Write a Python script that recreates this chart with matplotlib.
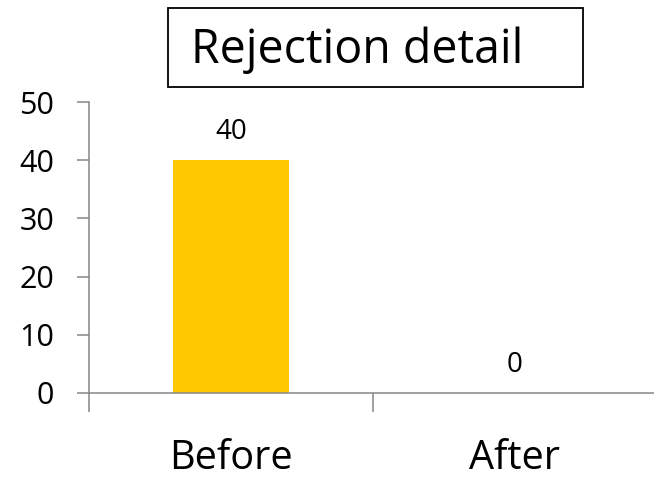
import matplotlib
matplotlib.use("Agg")
import matplotlib.pyplot as plt
from matplotlib.patches import Rectangle

# data
categories = ["Before", "After"]
values = [40, 0]
y_ticks = [0, 10, 20, 30, 40, 50]
title = "Rejection detail"

AXIS_GRAY = "#868686"
BAR_GOLD = "#FFC800"
W, H = 654, 484

plt.rcParams['font.family'] = ['Open Sans', 'DejaVu Sans']

fig = plt.figure(figsize=(W / 100, H / 100), dpi=100)
ax = fig.add_axes([89 / W, 1 - 393 / H, 568 / W, 291 / H])

x = list(range(len(categories)))
ax.bar(x, values, width=0.41, color=BAR_GOLD, zorder=2)

# value labels above bars
for xi, v in zip(x, values):
    ax.annotate(str(v), (xi, v), xytext=(0, 10), textcoords="offset points",
                ha="center", va="bottom", fontsize=20, color="black")

ax.set_xlim(-0.5, len(categories) - 0.5)
ax.set_ylim(0, 50)
ax.set_yticks(y_ticks)
ax.tick_params(axis="y", labelsize=22, length=9, width=1.1, color=AXIS_GRAY,
               pad=16, labelcolor="black")

# category labels between boundary ticks (Excel style)
ax.set_xticks(x)
ax.set_xticklabels(categories)
ax.set_xticks([i - 0.5 for i in range(len(categories) + 1)], minor=True)
ax.tick_params(axis="x", which="major", length=0, labelsize=28.5, pad=33)
ax.tick_params(axis="x", which="minor", length=14, width=1.1, color=AXIS_GRAY)

for side in ["top", "right"]:
    ax.spines[side].set_visible(False)
for side in ["left", "bottom"]:
    ax.spines[side].set_color(AXIS_GRAY)
    ax.spines[side].set_linewidth(1.1)

# boxed title
fig.patches.append(Rectangle((168 / W, 1 - 87 / H), 415 / W, 79 / H,
                             transform=fig.transFigure, fc="white",
                             ec="black", lw=1.3))
fig.text(191 / W, 1 - 63 / H, title, ha="left", va="baseline", fontsize=33.5)

fig.savefig("out.png", dpi=100)
